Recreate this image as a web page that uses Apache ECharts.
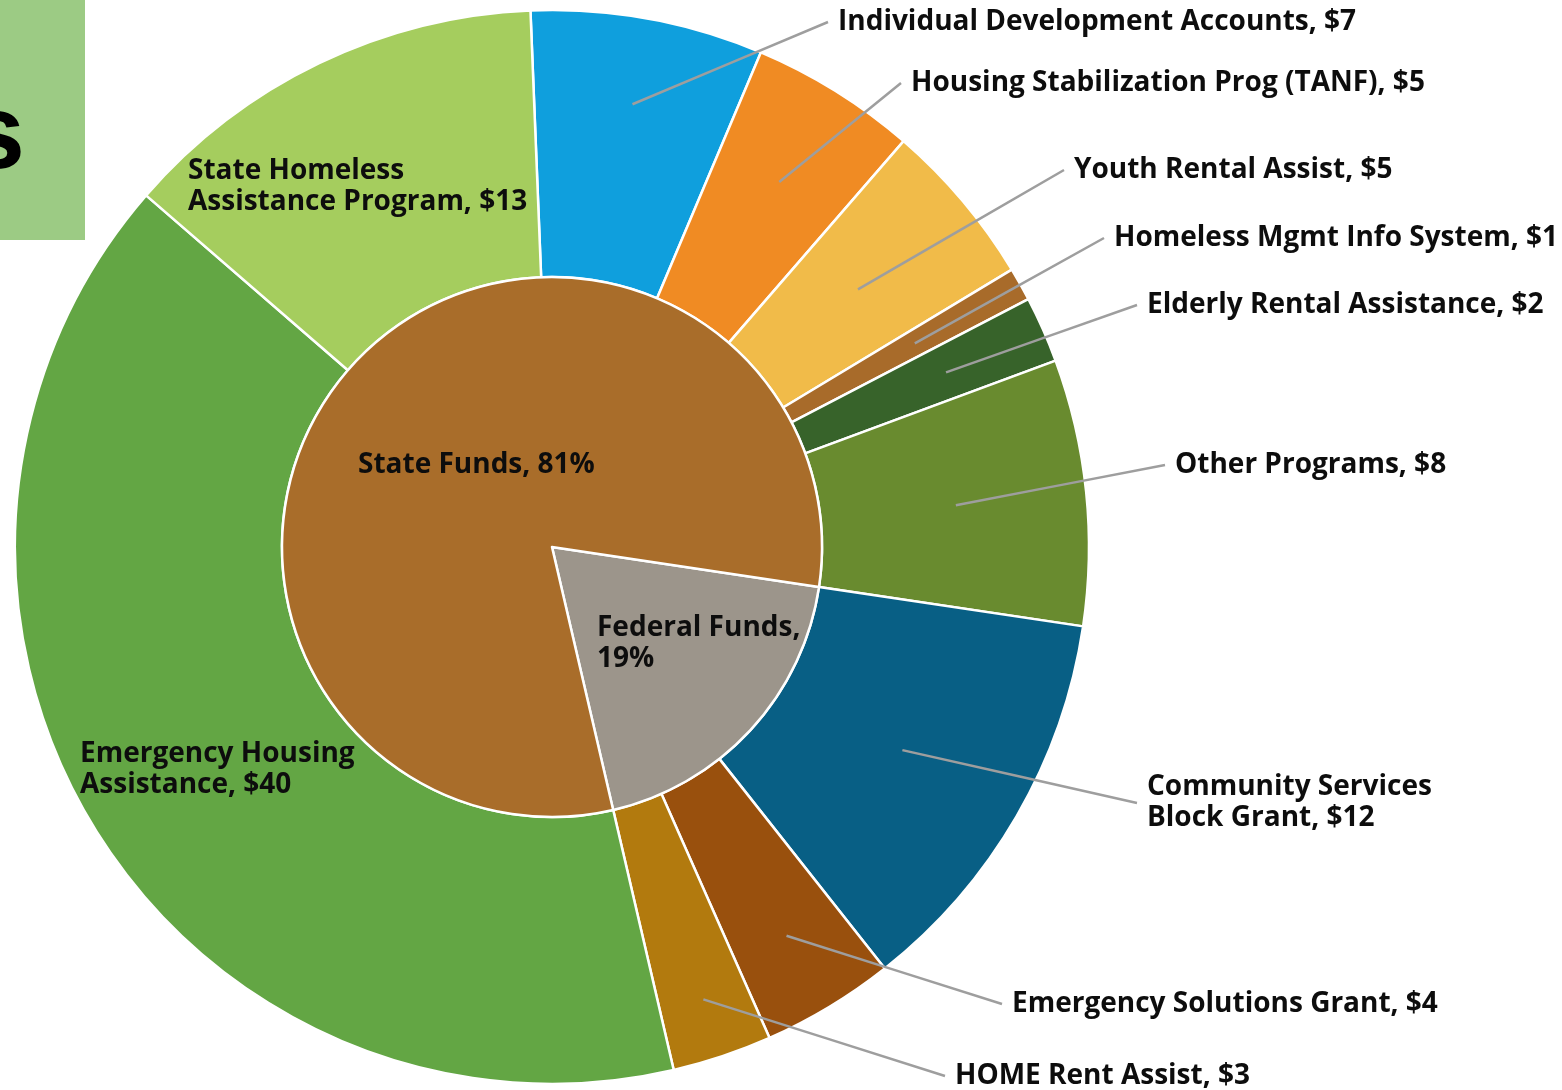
<!DOCTYPE html>
<html>
<head>
<meta charset="utf-8">
<script src="https://cdn.jsdelivr.net/npm/echarts@6/dist/echarts.min.js"></script>
<style>
  html, body { margin: 0; padding: 0; background: #ffffff; }
  #chart { width: 1562px; height: 1090px; }
</style>
</head>
<body>
<div id="chart"></div>
<script>
// Homeless & housing program funding, $ millions, clockwise from the top
const programNames = [
  'Individual Development Accounts',
  'Housing Stabilization Prog (TANF)',
  'Youth Rental Assist',
  'Homeless Mgmt Info System',
  'Elderly Rental Assistance',
  'Other Programs',
  'Community Services\nBlock Grant',
  'Emergency Solutions Grant',
  'HOME Rent Assist',
  'Emergency Housing\nAssistance',
  'State Homeless\nAssistance Program'
];
const programValues = [7, 5, 5, 1, 2, 8, 12, 4, 3, 40, 13];
const programSources = ['State', 'State', 'State', 'State', 'State', 'State',
  'Federal', 'Federal', 'Federal', 'State', 'State'];

// Share of funding by source, percent
const fundNames = ['Federal Funds', 'State Funds'];
const fundShares = [19, 81];

const programColors = ['#0f9fdd', '#f08b23', '#f1bb49', '#a86b2a', '#37632a', '#698b2f',
  '#085f85', '#99500d', '#b27a0e', '#63a644', '#a5cd5e'];
const fundColors = ['#9c958b', '#a96d2a'];

// Layout
const CX = 552, CY = 547;
const R_OUT = 537, R_IN = 270;
const START = 92.3;            // degrees, echarts convention
const LINE_GAP = 10;

// Label anchor (left edge, vertical centre) and leader start radius
const programLabelPlaces = [
  { x: 838,  y: 22,   lead: 450 },
  { x: 911,  y: 83,   lead: 430 },
  { x: 1074, y: 170,  lead: 400 },
  { x: 1114, y: 238,  lead: 416 },
  { x: 1147, y: 305,  lead: 431 },
  { x: 1175, y: 465,  lead: 406 },
  { x: 1147, y: 803,  lead: 405 },
  { x: 1012, y: 1004, lead: 454 },
  { x: 955,  y: 1076, lead: 477 },
  { x: 80,   y: 770,  lead: 0 },
  { x: 188,  y: 187,  lead: 0 }
];
const fundLabelPlaces = [
  { x: 597, y: 644, wrap: true },
  { x: 358, y: 465, wrap: false }
];

const total = programValues.reduce((a, b) => a + b, 0);
const before = programValues.map((v, i) => programValues.slice(0, i).reduce((a, b) => a + b, 0));
const firstFederal = programSources.indexOf('Federal');
const INNER_START = START - before[firstFederal] / total * 360;

function midAngle(i) {
  const deg = START - (before[i] + programValues[i] / 2) / total * 360;
  return deg * Math.PI / 180;
}

const textStyle = {
  color: '#0d0d0d',
  fontFamily: '"Open Sans"',
  fontWeight: 'bold',
  fontSize: 28,
  lineHeight: 31
};

const ringData = programNames.map((n, i) => ({
  name: n, value: programValues[i], itemStyle: { color: programColors[i] }
}));

const labelData = programNames.map((n, i) => {
  const d = { name: n, value: programValues[i] };
  if (!programLabelPlaces[i].lead) {
    d.label = { position: 'inside' };
    d.labelLine = { show: false };
  }
  return d;
});

const fundData = fundNames.map((n, i) => ({
  name: n, value: fundShares[i], itemStyle: { color: fundColors[i] }
}));

const chart = echarts.init(document.getElementById('chart'), null, { renderer: 'canvas' });

chart.setOption({
  animation: false,
  backgroundColor: '#ffffff',
  graphic: [
    { type: 'rect', left: 0, top: 0, shape: { width: 85, height: 240 }, style: { fill: '#9ccb84' }, z: 0 },
    { type: 'text', x: -34, y: 139, style: { text: 's', font: 'bold 106px "Liberation Sans"', fill: '#000000', verticalAlign: 'middle' }, z: 1 }
  ],
  series: [
    {
      type: 'pie',
      name: 'Programs',
      center: [CX, CY],
      radius: [R_IN, R_OUT],
      startAngle: START,
      clockwise: true,
      silent: true,
      avoidLabelOverlap: false,
      itemStyle: { borderColor: '#ffffff', borderWidth: 2.5 },
      label: { show: false },
      labelLine: { show: false },
      data: ringData,
      z: 2
    },
    {
      type: 'pie',
      name: 'Sources',
      center: [CX, CY],
      radius: [0, R_IN],
      startAngle: INNER_START,
      clockwise: true,
      silent: true,
      avoidLabelOverlap: false,
      itemStyle: { borderColor: '#ffffff', borderWidth: 2.5 },
      label: Object.assign({
        show: true,
        position: 'inside',
        formatter: p => p.name + (fundLabelPlaces[p.dataIndex].wrap ? ',\n' : ', ') + p.value + '%'
      }, textStyle),
      labelLayout: p => ({
        x: fundLabelPlaces[p.dataIndex].x,
        y: fundLabelPlaces[p.dataIndex].y,
        align: 'left',
        verticalAlign: 'middle'
      }),
      data: fundData,
      z: 2
    },
    {
      // transparent copy of the ring that carries the labels and leader lines on top
      type: 'pie',
      name: 'Program labels',
      center: [CX, CY],
      radius: [R_IN, R_OUT],
      startAngle: START,
      clockwise: true,
      silent: true,
      avoidLabelOverlap: false,
      itemStyle: { color: 'rgba(0,0,0,0)', borderWidth: 0 },
      label: Object.assign({
        show: true,
        position: 'outside',
        formatter: p => p.name + ', $' + p.value
      }, textStyle),
      labelLine: { show: true, length: 10, length2: 10, lineStyle: { color: '#9e9e9e', width: 2.5 } },
      labelLayout: p => {
        const place = programLabelPlaces[p.dataIndex];
        const out = { x: place.x, y: place.y, align: 'left', verticalAlign: 'middle' };
        if (place.lead) {
          const a = midAngle(p.dataIndex);
          const sx = CX + place.lead * Math.cos(a);
          const sy = CY - place.lead * Math.sin(a);
          const ex = place.x - LINE_GAP, ey = place.y;
          out.labelLinePoints = [[sx, sy], [(sx + ex) / 2, (sy + ey) / 2], [ex, ey]];
        }
        return out;
      },
      data: labelData,
      z: 5
    }
  ]
});
</script>
</body>
</html>
